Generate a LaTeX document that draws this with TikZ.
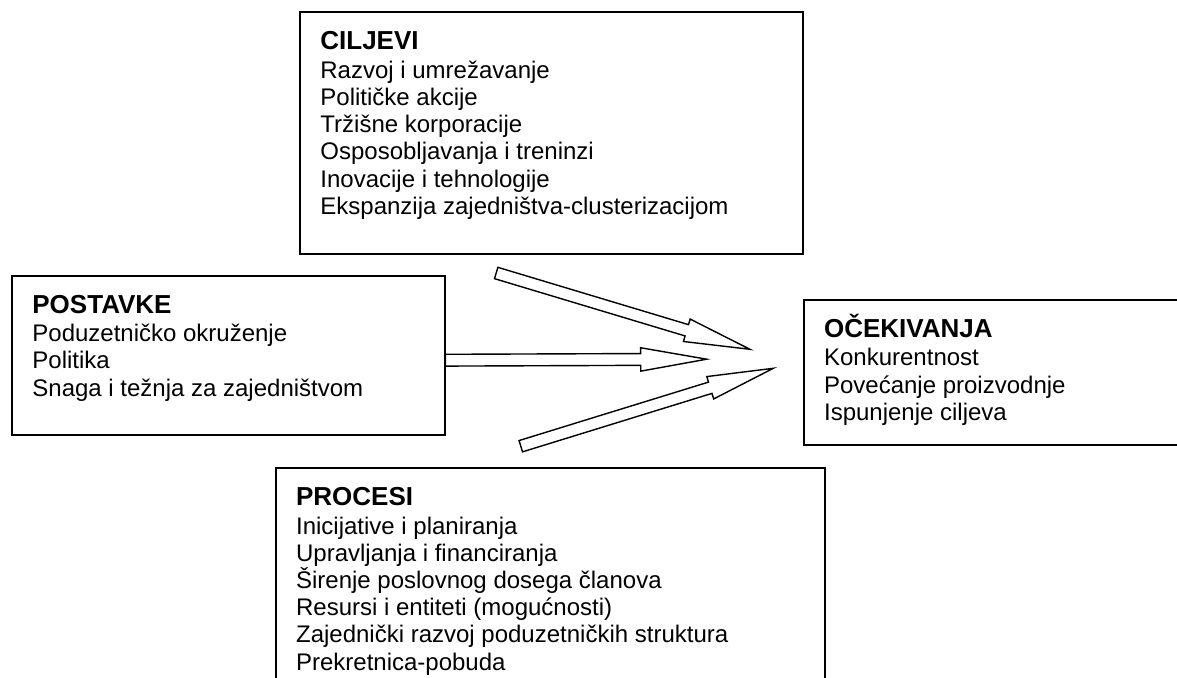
\documentclass[tikz,border=0pt]{standalone}
\usepackage{fontspec}
\setmainfont{Liberation Sans}
\usetikzlibrary{calc}
\def\hollowarrow(#1)(#2){%
	\coordinate (hb) at ($(#2)!33pt!(#1)$);
	\draw[arrowline] ($(#1)!2.95pt!90:(#2)$) -- ($(hb)!2.95pt!-90:(#1)$) -- ($(hb)!5.85pt!-90:(#1)$) -- (#2) -- ($(hb)!5.85pt!90:(#1)$) -- ($(hb)!2.95pt!90:(#1)$) -- ($(#1)!2.95pt!-90:(#2)$) -- cycle;}
\newcommand\boxtitle[1]{{\fontsize{13}{15}\selectfont\bfseries\rule{0pt}{13pt}#1}}
\tikzset{
	box/.style={draw, line width=1pt, anchor=north west, inner sep=0pt},
	boxtext/.style={anchor=north west, inner sep=0pt, align=left, font=\fontsize{12}{13.6}\selectfont},
	arrowline/.style={line width=0.7pt, fill=white}
}

\begin{document}
\begin{tikzpicture}[x=0.5pt, y=-0.5pt]
		%%%%% START %%%%%
		\useasboundingbox (0, 0) rectangle (1177, 678);
		\clip (0, 0) rectangle (1177, 678);
		
		\node[box, minimum width=251.5pt, minimum height=121pt] (ciljevi) at (299, 11.5) {};
		\node[box, minimum width=216.25pt, minimum height=79.5pt] (postavke) at (11, 275) {};
		\node[box, minimum width=190pt, minimum height=72.25pt] (ocekivanja) at (802.7, 299) {};
		\node[box, minimum width=274.65pt, minimum height=112pt] (procesi) at (274.7, 467.3) {};
		
		\node[boxtext] (ciljevi text) at ([shift={(21, 12)}]ciljevi.north west) {\boxtitle{CILJEVI}\\[0.6pt]
			Razvoj i umrežavanje\\ Političke akcije\\ Tržišne korporacije\\ Osposobljavanja i treninzi\\
			Inovacije i tehnologije\\ Ekspanzija zajedništva-clusterizacijom};
		\node[boxtext] (postavke text) at ([shift={(21, 12)}]postavke.north west) {\boxtitle{POSTAVKE}\\[0.6pt]
			Poduzetničko okruženje\\ Politika\\ Snaga i težnja za zajedništvom};
		\node[boxtext] (ocekivanja text) at ([shift={(21, 12)}]ocekivanja.north west) {\boxtitle{OČEKIVANJA}\\[0.6pt]
			Konkurentnost\\ Povećanje proizvodnje\\ Ispunjenje ciljeva};
		\node[boxtext] (procesi text) at ([shift={(21, 12)}]procesi.north west) {\boxtitle{PROCESI}\\[0.6pt]
			Inicijative i planiranja\\ Upravljanja i financiranja\\ Širenje poslovnog dosega članova\\
			Resursi i entiteti (mogućnosti)\\ Zajednički razvoj poduzetničkih struktura\\ Prekretnica-pobuda};
		
		% arrows towards OCEKIVANJA
		\coordinate (ciljevi tail) at (496.2, 273);
		\coordinate (ciljevi tip) at (750, 349.3);
		\coordinate (postavke tail) at ($(postavke.east)+(0, 4.7)$);
		\coordinate (postavke tip) at (706.7, 359.2);
		\coordinate (procesi tail) at (520.8, 446.2);
		\coordinate (procesi tip) at (773.3, 368.3);
		
		\hollowarrow(ciljevi tail)(ciljevi tip)
		\hollowarrow(postavke tail)(postavke tip)
		\hollowarrow(procesi tail)(procesi tip)
		
		%%%%% END %%%%%
	\end{tikzpicture}
\end{document}
